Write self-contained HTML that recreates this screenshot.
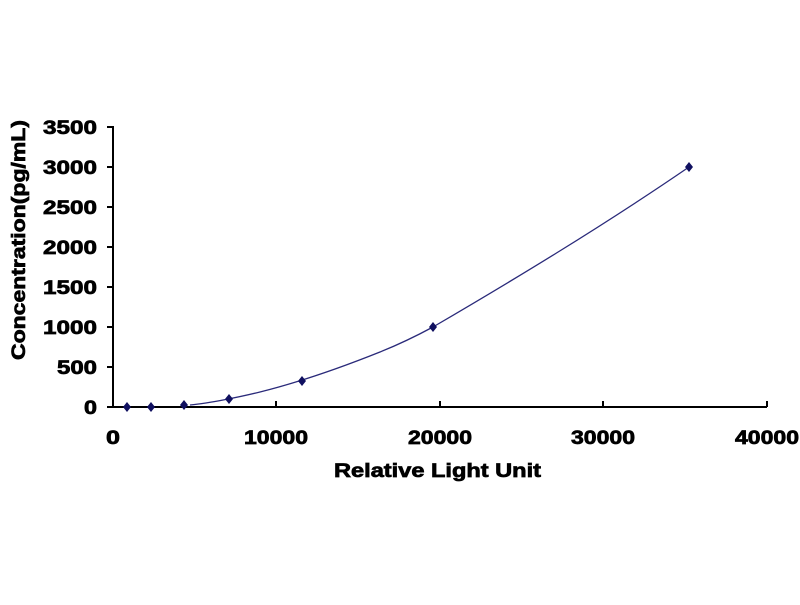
<!DOCTYPE html>
<html><head><style>body{margin:0;background:#fff}</style></head><body>
<svg width="800" height="600" xmlns="http://www.w3.org/2000/svg" font-family="Liberation Sans, Arial, sans-serif" font-weight="bold">
<rect width="800" height="600" fill="#fff"/>
<g stroke="#000" stroke-width="2" fill="none">
<line x1="113" y1="126" x2="113" y2="408"/>
<line x1="112" y1="407" x2="767" y2="407"/>
<line x1="107" y1="127" x2="113" y2="127"/>
<line x1="107" y1="167" x2="113" y2="167"/>
<line x1="107" y1="207" x2="113" y2="207"/>
<line x1="107" y1="247" x2="113" y2="247"/>
<line x1="107" y1="287" x2="113" y2="287"/>
<line x1="107" y1="327" x2="113" y2="327"/>
<line x1="107" y1="367" x2="113" y2="367"/>
<line x1="107" y1="407" x2="113" y2="407"/>
<line x1="276" y1="401" x2="276" y2="407"/>
<line x1="440" y1="401" x2="440" y2="407"/>
<line x1="603" y1="401" x2="603" y2="407"/>
<line x1="767" y1="401" x2="767" y2="407"/>
</g>
<g font-size="19" fill="#000" stroke="#000" stroke-width="0.7" lengthAdjust="spacingAndGlyphs">
<text x="43" y="134" textLength="54" lengthAdjust="spacingAndGlyphs">3500</text>
<text x="43" y="174" textLength="54" lengthAdjust="spacingAndGlyphs">3000</text>
<text x="43" y="214" textLength="54" lengthAdjust="spacingAndGlyphs">2500</text>
<text x="43" y="254" textLength="54" lengthAdjust="spacingAndGlyphs">2000</text>
<text x="43" y="294" textLength="54" lengthAdjust="spacingAndGlyphs">1500</text>
<text x="43" y="334" textLength="54" lengthAdjust="spacingAndGlyphs">1000</text>
<text x="57" y="374" textLength="40" lengthAdjust="spacingAndGlyphs">500</text>
<text x="84" y="414" textLength="13" lengthAdjust="spacingAndGlyphs">0</text>
<text x="106" y="444" textLength="14" lengthAdjust="spacingAndGlyphs">0</text>
<text x="244" y="444" textLength="64" lengthAdjust="spacingAndGlyphs">10000</text>
<text x="408" y="444" textLength="64" lengthAdjust="spacingAndGlyphs">20000</text>
<text x="571" y="444" textLength="64" lengthAdjust="spacingAndGlyphs">30000</text>
<text x="735" y="444" textLength="64" lengthAdjust="spacingAndGlyphs">40000</text>
<text x="334" y="477" textLength="207" lengthAdjust="spacingAndGlyphs">Relative Light Unit</text>
<text transform="translate(25,360) rotate(-90)" textLength="240" lengthAdjust="spacingAndGlyphs">Concentration(pg/mL)</text>
</g>
<path d="M190,405 C210,403 240,397 260,392 C300,382 340,368 380,352 C400,344 420,334 433,327 C510,282 600,228 689,167" stroke="#2a2a7a" stroke-width="1.3" fill="none"/>
<g fill="#101060">
<path d="M127,402l4,5l-4,5l-4,-5z"/>
<path d="M151,402l4,5l-4,5l-4,-5z"/>
<path d="M184,400l4,5l-4,5l-4,-5z"/>
<path d="M229,394l4,5l-4,5l-4,-5z"/>
<path d="M302,376l4,5l-4,5l-4,-5z"/>
<path d="M433,322l4,5l-4,5l-4,-5z"/>
<path d="M689,162l4,5l-4,5l-4,-5z"/>
</g>
</svg>
</body></html>
